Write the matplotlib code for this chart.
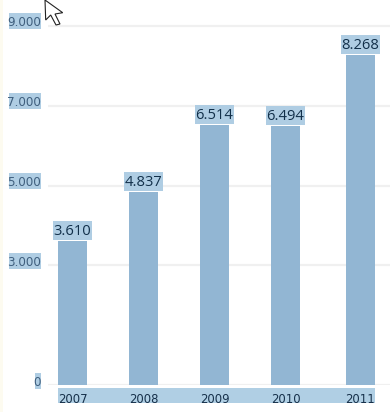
# -*- coding: utf-8 -*-
import matplotlib
matplotlib.use("Agg")
import matplotlib.pyplot as plt
from matplotlib.patches import Polygon, Rectangle
from matplotlib.transforms import Affine2D, ScaledTranslation, blended_transform_factory

years = ["2007", "2008", "2009", "2010", "2011"]
values = [3610, 4837, 6514, 6494, 8268]
y_ticks = [0, 3000, 5000, 7000, 9000]
y_labels = ["0", "3.000", "5.000", "7.000", "9.000"]

BAR = "#92b6d3"
HIGHLIGHT = "#afcde3"
W, H = 390, 412

fig = plt.figure(figsize=(W / 100, H / 100), dpi=100, facecolor="white")
ax = fig.add_axes([48 / W, (H - 385) / H, (W - 48) / W, 385 / H])
ax.patch.set_visible(False)

# the last bar sits a bit further right in the original
slots = [0, 1, 2, 3, 4.05]
px_per_slot = 71
ax.set_xlim((48 - 72.5) / px_per_slot, (390 - 72.5) / px_per_slot)
px_per_unit = 0.0399
ax.set_ylim(0, 385 / px_per_unit)

ax.bar(slots, values, width=29 / px_per_slot, color=BAR, zorder=3)

ax.set_yticks(y_ticks, y_labels)
ax.set_xticks(slots, years)
ax.grid(axis="y", color="#f0f0f0", lw=1.6)
ax.tick_params(length=0)
ax.tick_params(axis="x", pad=5.5, labelsize=8.4, labelcolor="#16304a")
ax.tick_params(axis="y", pad=5, labelsize=8.6, labelcolor="#3f5f7e")
for spine in ax.spines.values():
    spine.set_visible(False)

# y labels sit slightly above their grid line
shift = ScaledTranslation(0, 4.5 / 100, fig.dpi_scale_trans)
for label in ax.get_yticklabels():
    label.set_transform(label.get_transform() + shift)

# pixel coordinates, origin top left
px = Affine2D().scale(1, -1).translate(0, H)
px_y_data = blended_transform_factory(px, ax.transData)

# zorder 1 keeps these under the tick labels
for tick, text in zip(y_ticks, y_labels):
    left = 35 if text == "0" else 9
    bottom = tick - 3.5 / px_per_unit
    ax.add_patch(Rectangle((left, bottom), 41 - left, 16 / px_per_unit,
                           transform=px_y_data, color=HIGHLIGHT, lw=0,
                           clip_on=False, zorder=1))

# band behind the year labels
fig.add_artist(Rectangle((58, 388), 317, 15, transform=px, color="#b0cfe4", lw=0, zorder=-1))

# value labels with their highlight
for x, v in zip(slots, values):
    ax.add_patch(Rectangle((x - 39 / 2 / px_per_slot, v + 1 / px_per_unit),
                           39 / px_per_slot, 19 / px_per_unit,
                           color=HIGHLIGHT, lw=0, zorder=2))
    ax.text(x, v + 9.5 / px_per_unit, f"{v:,}".replace(",", "."), ha="center", va="center",
            fontsize=10.6, family="Open Sans", color="#12304a", zorder=4)

# cream strip on the left edge
fig.add_artist(Rectangle((0, 0), 3, H, transform=px, color="#fdfbf0", lw=0, zorder=-1))

# mouse cursor left in the screenshot
cursor = [(45, 0), (62.7, 12.7), (55, 14), (60, 24), (56, 25), (50.7, 15), (45.7, 20)]
fig.add_artist(Polygon(cursor, closed=True, transform=px, facecolor="white",
                       edgecolor="#222222", lw=0.8, zorder=5))

fig.savefig("out.png", dpi=100)
plt.close(fig)
